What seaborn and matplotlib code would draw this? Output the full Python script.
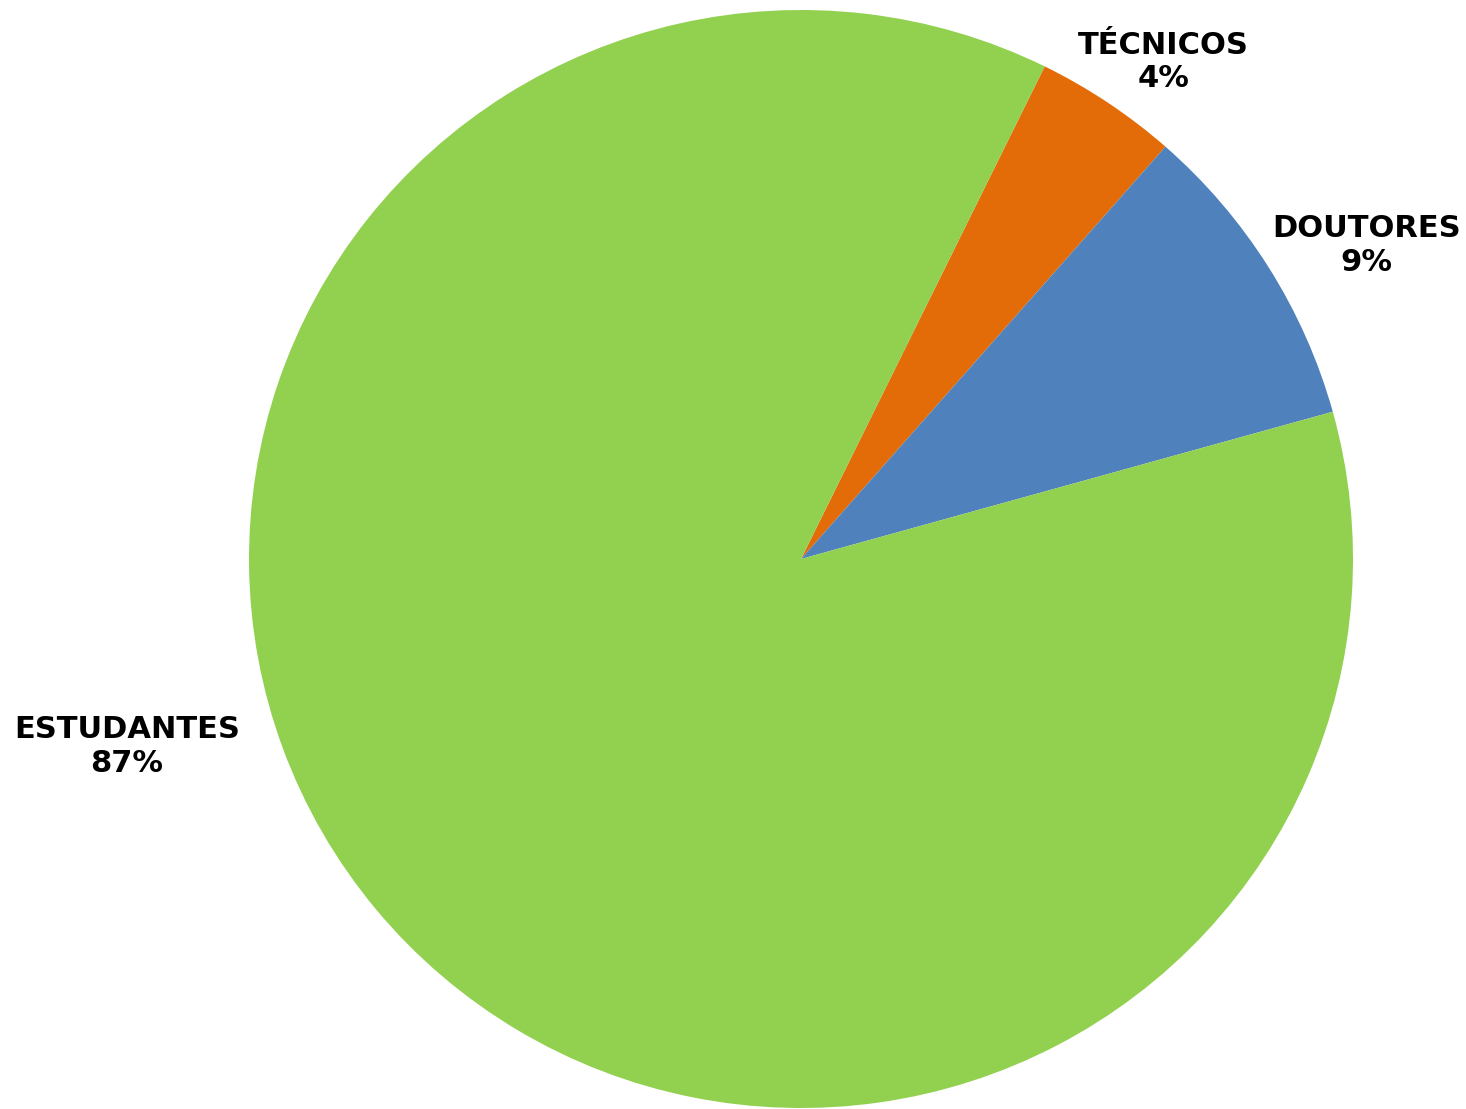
import matplotlib
matplotlib.use("Agg")
import matplotlib.pyplot as plt
import seaborn as sns

sns.set_theme(style="white")
plt.rcParams["font.family"] = ["DejaVu Sans"]

# Data (clockwise order starting at the first slice)
categories = ["TÉCNICOS", "DOUTORES", "ESTUDANTES"]
values = [4.2, 9.2, 86.6]
pct_labels = ["4%", "9%", "87%"]
colors = ["#E36C09", "#4F81BD", "#92D050"]

# label positions (data units, pie radius = 1)
label_pos = [(0.656, 0.905), (1.024, 0.571), (-1.221, -0.342)]

fig = plt.figure(figsize=(14.66, 11.09), dpi=100)
ax = fig.add_axes([0, 0, 1, 1])

ax.pie(values, colors=colors, startangle=63.8, counterclock=False,
       wedgeprops={"linewidth": 0})

for (x, y), cat, pct in zip(label_pos, categories, pct_labels):
    ax.text(x, y, f"{cat}\n{pct}", ha="center", va="center",
            fontsize=22, fontweight="bold", color="black", linespacing=1.2)

# center the pie at ~(801, 559) px, radius ~552 px wide / 549 px tall
ax.set_xlim(-801 / 552, (1466 - 801) / 552)
ax.set_ylim(-(1109 - 559) / 549, 559 / 549)
ax.set_aspect("auto")
ax.axis("off")

fig.savefig("out.png", dpi=100, facecolor="white")
